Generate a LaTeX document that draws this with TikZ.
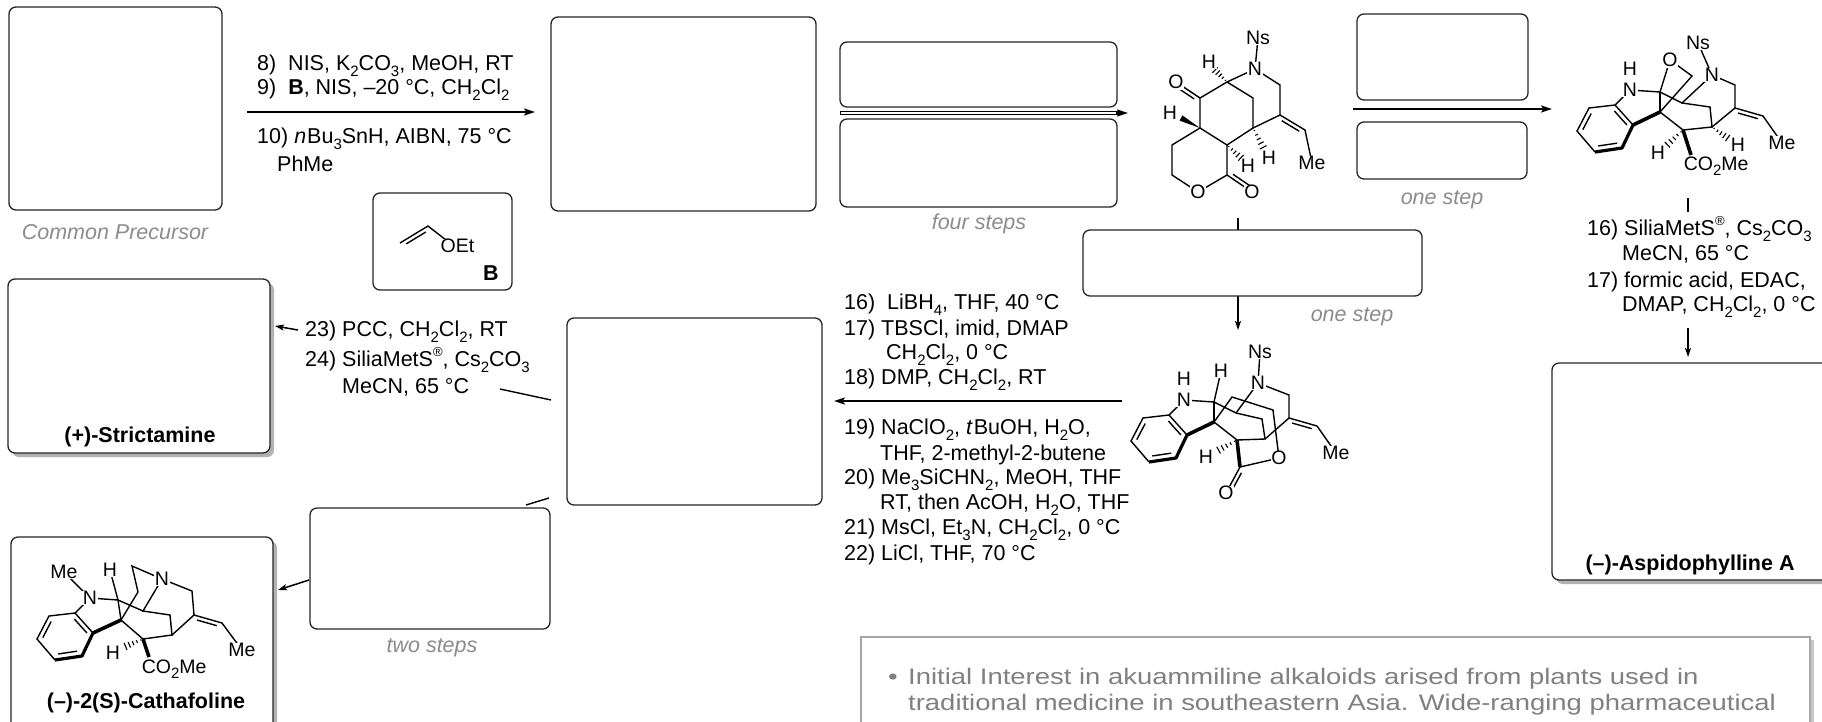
\documentclass[tikz,border=0pt]{standalone}
\usepackage{fontspec}
\setmainfont{Liberation Sans}
\newfontfamily\tbfont[FakeStretch=1.22]{Liberation Sans}
\usetikzlibrary{calc,arrows.meta}
\newcommand{\rf}{\fontsize{21.5}{25}\selectfont}
\newcommand{\tf}{\tbfont\fontsize{22.5}{26}\selectfont}
\newcommand{\af}{\fontsize{19.5}{20}\selectfont}
\newcommand{\sbs}[1]{\raisebox{-0.28em}{\fontsize{15}{15}\selectfont #1}}
\newcommand{\sps}[1]{\raisebox{0.5em}{\fontsize{13}{13}\selectfont #1}}
\newcommand{\hsh}[2]{\foreach \ha/\hb in {0.12/0.6pt,0.32/1.4pt,0.52/2.2pt,0.72/3pt,0.92/3.8pt}{\draw[line width=1.1pt] ($(#1)!\ha!(#2)!\hb!90:(#2)$) -- ($(#1)!\ha!(#2)!\hb!-90:(#2)$);}}
\newcommand{\wdg}[2]{\fill (#1) -- ($(#2)!3pt!90:(#1)$) -- ($(#2)!3pt!-90:(#1)$) -- cycle;}
\newcommand{\dbl}[3]{\draw[bond] ($(#1)!0.15!(#2)!#3!90:(#2)$) -- ($(#2)!0.15!(#1)!#3!-90:(#1)$);}
\begin{document}
\begin{tikzpicture}[x=1pt,y=-1pt,
  box/.style={draw=black!85, line width=1.3pt, rounded corners=7pt, fill=white, inner sep=0pt, outer sep=0pt},
  shadow/.style={fill=black!30, rounded corners=7pt},
  rg/.style={anchor=west, inner sep=0pt, font=\rf},
  gl/.style={inner sep=0pt, font=\rf\itshape, text=black!45},
  bl/.style={inner sep=0pt, font=\rf\bfseries},
  bond/.style={line width=1.4pt},
  thick bond/.style={line width=3.6pt},
  atom/.style={font=\af, fill=white, inner sep=0.6pt},
  arr/.style={-{Stealth[length=11pt,width=7pt,inset=2.5pt]}, line width=2pt},
  sarr/.style={-{Stealth[length=9pt,width=6pt,inset=2pt]}, line width=1.5pt}]
\useasboundingbox (0,0) rectangle (1822,721);
\fill[white] (0,0) rectangle (1822,721);

% ---------- connector coordinates ----------
\coordinate (a1s) at (247,112); \coordinate (a1e) at (535,112);
\coordinate (a2s) at (840,113); \coordinate (a2e) at (1128,113);
\coordinate (a3s) at (1353,109); \coordinate (a3e) at (1552,109);
\coordinate (a4s) at (1238,218); \coordinate (a4e) at (1238,330);
\coordinate (a5s) at (1122,401); \coordinate (a5e) at (834,401);
\coordinate (a6s) at (1688,198); \coordinate (a6t) at (1688,212);
\coordinate (a6u) at (1688,328); \coordinate (a6e) at (1688,357);
\coordinate (a7s) at (551,400); \coordinate (a7t) at (500,389);
\coordinate (a7u) at (298,330); \coordinate (a7e) at (275,326);
\coordinate (a8s) at (549,498); \coordinate (a8e) at (526,505);
\coordinate (a9s) at (309,580); \coordinate (a9e) at (278,590);

% arrows drawn below boxes
\draw[arr] (a1s) -- (a1e);
\draw[arr, line width=3.6pt] (a2s) -- (a2e);
\draw[white, line width=1.3pt] (841,113) -- (1116,113);
\draw[arr] (a3s) -- (a3e);
\draw[sarr] (a4s) -- (a4e);
\draw[arr] (a5s) -- (a5e);
\draw[bond] (a6s) -- (a6t);
\draw[sarr] (a6u) -- (a6e);
\draw[bond] (a7s) -- (a7t);
\draw[sarr] (a7u) -- (a7e);
\draw[bond] (a8s) -- (a8e);
\draw[sarr] (a9s) -- (a9e);

% ---------- boxes ----------
\node[box, minimum width=213pt, minimum height=203pt] (cp) at (115.5,108.5) {};
\node[box, minimum width=265pt, minimum height=194pt] (bx2) at (683.5,114) {};
\node[box, minimum width=277pt, minimum height=65pt] (fsu) at (978.5,74.5) {};
\node[box, minimum width=277pt, minimum height=88pt] (fsl) at (978.5,163) {};
\node[box, minimum width=171pt, minimum height=86pt] (osu) at (1442.5,57) {};
\node[box, minimum width=170pt, minimum height=57pt] (osl) at (1442,150.5) {};
\node[box, minimum width=339pt, minimum height=66pt] (osm) at (1252.5,263) {};
\node[box, minimum width=139pt, minimum height=97pt] (bb) at (442.5,241.5) {};
\fill[shadow] (12,283) rectangle (274,457);
\node[box, minimum width=262pt, minimum height=174pt] (str) at (139,366) {};
\node[box, minimum width=255pt, minimum height=187pt] (bx8) at (694.5,411.5) {};
\node[box, minimum width=240pt, minimum height=121pt] (ts) at (430,568.5) {};
\fill[shadow] (15,541) rectangle (277,734);
\node[box, minimum width=262pt, minimum height=193pt] (cat) at (142,633.5) {};
\fill[shadow] (1556,367) rectangle (1834,584);
\node[box, minimum width=278pt, minimum height=217pt] (asp) at (1691,471.5) {};
\fill[black!22] (864,640) rectangle (1814,760);
\node[draw=black!35, line width=1.5pt, fill=white, minimum width=949pt, minimum height=123pt, inner sep=0pt] (tb) at (1335.5,698.5) {};

% ---------- labels ----------
\node[gl] (lcp) at (115,232) {Common Precursor};
\node[gl] (lfs) at (979,224) {four steps};
\node[gl] (los1) at (1442,200) {one step};
\node[gl] (los2) at (1352,317) {one step};
\node[gl] (lts) at (432,648) {two steps};
\node[bl] (lstr) at (140,437) {(+)-Strictamine};
\node[bl] (lcat) at (146,703) {(–)-2(S)-Cathafoline};
\node[bl] (lasp) at (1690,565) {(–)-Aspidophylline A};

% ---------- reagents ----------
\node[rg] (r8) at (257,66) {8)\ \ NIS, K\sbs{2}CO\sbs{3}, MeOH, RT};
\node[rg] (r9) at (257,90) {9)\ \ \textbf{B}, NIS, –20 °C, CH\sbs{2}Cl\sbs{2}};
\node[rg] (r10) at (257,139) {10) \textit{n}\kern1ptBu\sbs{3}SnH, AIBN, 75 °C};
\node[rg] (r10b) at (277,164) {PhMe};

\node[rg] (m16) at (844,305) {16)\ \ LiBH\sbs{4}, THF, 40 °C};
\node[rg] (m17) at (844,330) {17) TBSCl, imid, DMAP};
\node[rg] (m17b) at (886,355) {CH\sbs{2}Cl\sbs{2}, 0 °C};
\node[rg] (m18) at (844,380) {18) DMP, CH\sbs{2}Cl\sbs{2}, RT};
\node[rg] (m19) at (844,430) {19) NaClO\sbs{2}, \textit{t}\kern1ptBuOH, H\sbs{2}O,};
\node[rg] (m19b) at (880,455) {THF, 2-methyl-2-butene};
\node[rg] (m20) at (844,480) {20) Me\sbs{3}SiCHN\sbs{2}, MeOH, THF};
\node[rg] (m20b) at (880,505) {RT, then AcOH, H\sbs{2}O, THF};
\node[rg] (m21) at (844,530) {21) MsCl, Et\sbs{3}N, CH\sbs{2}Cl\sbs{2}, 0 °C};
\node[rg] (m22) at (844,555) {22) LiCl, THF, 70 °C};

\node[rg] (l23) at (305,332) {23) PCC, CH\sbs{2}Cl\sbs{2}, RT};
\node[rg] (l24) at (305,360) {24) SiliaMetS\sps{®}, Cs\sbs{2}CO\sbs{3}};
\node[rg] (l24b) at (342,387) {MeCN, 65 °C};

\node[rg] (q16) at (1587,229) {16) SiliaMetS\sps{®}, Cs\sbs{2}CO\sbs{3}};
\node[rg] (q16b) at (1622,254) {MeCN, 65 °C};
\node[rg] (q17) at (1587,282) {17) formic acid, EDAC,};
\node[rg] (q17b) at (1622,307) {DMAP, CH\sbs{2}Cl\sbs{2}, 0 °C};

% ---------- text box ----------
\node[inner sep=0pt, font=\tf, text=black!50] (tbb) at (893,679) {•};
\node[anchor=west, inner sep=0pt, font=\tf, text=black!50] (tb1) at (908,679) {Initial Interest in akuammiline alkaloids arised from plants used in};
\node[anchor=west, inner sep=0pt, font=\tf, text=black!50] (tb2) at (908,705) {traditional medicine in southeastern Asia. Wide-ranging pharmaceutical};

% ---------- reagent B ----------
\coordinate (bv1) at (400,243); \coordinate (bv2) at (428,226); \coordinate (bvo) at (446,240);
\draw[bond] (bv1) -- (bv2) -- (bvo);
\dbl{bv1}{bv2}{-4pt}
\node[anchor=west, font=\af, inner sep=0.5pt, fill=white] (boet) at (440,246) {OEt};
\node[font=\rf\bfseries, inner sep=0pt] (blab) at (491,273) {B};

% ---------- molecule 1 ----------
\coordinate (m1c1) at (1227,82); \coordinate (m1c2) at (1200,98); \coordinate (m1o1) at (1176,82);
\coordinate (m1c4) at (1200,128); \coordinate (m1c5) at (1227,145); \coordinate (m1c6) at (1253,128);
\coordinate (m1cb) at (1253,98); \coordinate (m1ce) at (1280,115); \coordinate (m1cn) at (1280,85);
\coordinate (m1n) at (1255,69); \coordinate (m1ns) at (1258,38);
\coordinate (m1c7) at (1172,145); \coordinate (m1c8) at (1172,175); \coordinate (m1o2) at (1198,192);
\coordinate (m1c9) at (1227,175); \coordinate (m1o3) at (1252,192);
\coordinate (m1cv) at (1305,130); \coordinate (m1me) at (1312,163);
\coordinate (m1h1) at (1214,69); \coordinate (m1h4) at (1181,118);
\coordinate (m1h5) at (1242,159); \coordinate (m1h6) at (1264,149);
\draw[bond] (m1n) -- (m1c1) -- (m1c2) -- (m1c4) -- (m1c5) -- (m1c6) -- (m1cb) -- (m1c1);
\draw[bond] (m1n) -- (m1cn) -- (m1ce) -- (m1c6);
\draw[bond] (m1ce) -- (m1cv) -- (m1me);
\dbl{m1ce}{m1cv}{-4pt}
\draw[bond] (m1c2) -- (m1o1);
\dbl{m1c2}{m1o1}{4pt}
\draw[bond] (m1c4) -- (m1c7) -- (m1c8) -- (m1o2) -- (m1c9) -- (m1c5);
\draw[bond] (m1c9) -- (m1o3);
\dbl{m1c9}{m1o3}{4pt}
\draw[bond] (m1n) -- (m1ns);
\hsh{m1c1}{m1h1} \wdg{m1c4}{m1h4} \hsh{m1c5}{m1h5} \hsh{m1c6}{m1h6}
\node[atom] at (m1n) {N}; \node[atom] at (m1ns) {Ns};
\node[atom] at (m1o1) {O}; \node[atom] at (m1o2) {O}; \node[atom] at (m1o3) {O};
\node[atom] at (m1me) {Me};
\node[atom] at (1209,62) {H}; \node[atom] at (1170,113) {H};
\node[atom] at (1248,166) {H}; \node[atom] at (1269,158) {H};

% ---------- molecule 2 ----------
\coordinate (m2ni) at (1630,90); \coordinate (m2ca) at (1660,92); \coordinate (m2o) at (1670,60);
\coordinate (m2cq) at (1660,112); \coordinate (m2v) at (1692,76); \coordinate (m2c1) at (1682,103);
\coordinate (m2n) at (1712,75); \coordinate (m2ns) at (1698,43); \coordinate (m2cb) at (1710,107);
\coordinate (m2c15) at (1712,127); \coordinate (m2c16) at (1683,130); \coordinate (m2cn) at (1735,85);
\coordinate (m2ce) at (1735,108); \coordinate (m2cv) at (1763,116); \coordinate (m2me) at (1782,143);
\coordinate (m2co) at (1691,155); \coordinate (m2h16) at (1666,146); \coordinate (m2h15) at (1729,139);
\coordinate (m2p1) at (1615,105); \coordinate (m2p2) at (1633,125); \coordinate (m2p3) at (1622,148);
\coordinate (m2p4) at (1595,152); \coordinate (m2p5) at (1577,131); \coordinate (m2p6) at (1589,108);
\draw[bond] (m2ni) -- (m2p1); \draw[bond] (m2ni) -- (m2ca);
\draw[bond] (m2ca) -- (m2o) -- (m2v) -- (m2cq);
\draw[bond] (m2ca) -- (m2cq);
\draw[bond] (m2ca) -- (m2c1) -- (m2n);
\draw[bond] (m2c1) -- (m2cb) -- (m2c15) -- (m2c16) -- (m2cq);
\draw[bond] (m2n) -- (m2cn) -- (m2ce) -- (m2c15);
\draw[bond] (m2ce) -- (m2cv) -- (m2me);
\dbl{m2ce}{m2cv}{-4pt}
\draw[bond] (m2n) -- (m2ns);
\draw[thick bond] (m2p2) -- (m2cq);
\draw[bond] (m2p1) -- (m2p2); \draw[bond] (m2p4) -- (m2p5) -- (m2p6) -- (m2p1);
\draw[line width=3.2pt, line join=round] (m2p2) -- (m2p3) -- (m2p4);
\dbl{m2p5}{m2p6}{-4.5pt} \dbl{m2p3}{m2p4}{-5.5pt} \dbl{m2p1}{m2p2}{-4.5pt}
\draw[thick bond] (m2c16) -- (m2co);
\hsh{m2c16}{m2h16} \hsh{m2c15}{m2h15}
\node[atom] at (m2ni) {N}; \node[atom] at (1630,69) {H};
\node[atom] at (m2o) {O}; \node[atom] at (m2n) {N}; \node[atom] at (m2ns) {Ns};
\node[atom] at (m2me) {Me};
\node[atom, anchor=west] at (1683,166) {CO\sbs{2}Me};
\node[atom] at (1658,153) {H}; \node[atom] at (1738,145) {H};

% ---------- molecule 3 ----------
\coordinate (m3ni) at (1184,400); \coordinate (m3ca) at (1214,402); \coordinate (m3cq) at (1214,422);
\coordinate (m3w) at (1232,397); \coordinate (m3v) at (1273,410); \coordinate (m3c1) at (1236,413);
\coordinate (m3n) at (1258,383); \coordinate (m3ns) at (1260,352); \coordinate (m3cb) at (1262,419);
\coordinate (m3c15) at (1265,439); \coordinate (m3c16) at (1237,440); \coordinate (m3cn) at (1289,395);
\coordinate (m3ce) at (1289,418); \coordinate (m3cv) at (1317,426); \coordinate (m3me) at (1336,453);
\coordinate (m3cc) at (1240,467); \coordinate (m3oc) at (1226,493); \coordinate (m3or) at (1279,458);
\coordinate (m3h16) at (1217,451); \coordinate (m3ha) at (1221,371);
\coordinate (m3p1) at (1169,415); \coordinate (m3p2) at (1187,435); \coordinate (m3p3) at (1176,458);
\coordinate (m3p4) at (1149,462); \coordinate (m3p5) at (1131,441); \coordinate (m3p6) at (1143,418);
\draw[bond] (m3ni) -- (m3p1); \draw[bond] (m3ni) -- (m3ca);
\draw[bond] (m3ca) -- (m3ha);
\draw[bond] (m3ca) -- (m3cq);
\draw[bond] (m3ca) -- (m3c1) -- (m3n);
\draw[bond] (m3c1) -- (m3cb) -- (m3c15) -- (m3c16) -- (m3cq);
\draw[bond] (m3n) -- (m3cn) -- (m3ce) -- (m3c15);
\draw[bond] (m3ce) -- (m3cv) -- (m3me);
\dbl{m3ce}{m3cv}{-4pt}
\draw[bond] (m3n) -- (m3ns);
\draw[bond] (m3cq) -- (m3w) -- (m3v) -- (m3or) -- (m3cc) -- (m3oc);
\dbl{m3cc}{m3oc}{4pt}
\draw[thick bond] (m3c16) -- (m3cc);
\draw[thick bond] (m3p2) -- (m3cq);
\draw[bond] (m3p1) -- (m3p2); \draw[bond] (m3p4) -- (m3p5) -- (m3p6) -- (m3p1);
\draw[line width=3.2pt, line join=round] (m3p2) -- (m3p3) -- (m3p4);
\dbl{m3p5}{m3p6}{-4.5pt} \dbl{m3p3}{m3p4}{-5.5pt} \dbl{m3p1}{m3p2}{-4.5pt}
\hsh{m3c16}{m3h16}
\node[atom] at (m3ni) {N}; \node[atom] at (1184,379) {H};
\node[atom] at (m3ha) {H};
\node[atom] at (m3n) {N}; \node[atom] at (m3ns) {Ns};
\node[atom] at (m3me) {Me}; \node[atom] at (m3oc) {O}; \node[atom] at (m3or) {O};
\node[atom] at (1206,457) {H};

% ---------- molecule 4 (cathafoline) ----------
\coordinate (m4ni) at (90,598); \coordinate (m4me1) at (64,572); \coordinate (m4ca) at (118,600);
\coordinate (m4ha) at (110,570); \coordinate (m4cq) at (121,620);
\coordinate (m4k1) at (132,566); \coordinate (m4k2) at (138,592);
\coordinate (m4c1) at (143,611); \coordinate (m4n) at (162,579); \coordinate (m4cb) at (170,615);
\coordinate (m4c15) at (172,635); \coordinate (m4c16) at (143,639); \coordinate (m4cn) at (192,591);
\coordinate (m4ce) at (194,615); \coordinate (m4cv) at (222,623); \coordinate (m4me) at (242,650);
\coordinate (m4co) at (149,657); \coordinate (m4h16) at (124,647);
\coordinate (m4p1) at (75,613); \coordinate (m4p2) at (93,633); \coordinate (m4p3) at (82,656);
\coordinate (m4p4) at (55,660); \coordinate (m4p5) at (37,639); \coordinate (m4p6) at (49,616);
\draw[bond] (m4ni) -- (m4p1); \draw[bond] (m4ni) -- (m4ca); \draw[bond] (m4ni) -- (m4me1);
\draw[bond] (m4ca) -- (m4ha); \draw[bond] (m4ca) -- (m4cq); \draw[bond] (m4ca) -- (m4c1);
\draw[bond] (m4n) -- (m4k1) -- (m4k2) -- (m4cq);
\draw[bond] (m4n) -- (m4c1) -- (m4cb) -- (m4c15) -- (m4c16) -- (m4cq);
\draw[bond] (m4n) -- (m4cn) -- (m4ce) -- (m4c15);
\draw[bond] (m4ce) -- (m4cv) -- (m4me);
\dbl{m4ce}{m4cv}{-4pt}
\draw[thick bond] (m4p2) -- (m4cq);
\draw[bond] (m4p1) -- (m4p2); \draw[bond] (m4p4) -- (m4p5) -- (m4p6) -- (m4p1);
\draw[line width=3.2pt, line join=round] (m4p2) -- (m4p3) -- (m4p4);
\dbl{m4p5}{m4p6}{-4.5pt} \dbl{m4p3}{m4p4}{-5.5pt} \dbl{m4p1}{m4p2}{-4.5pt}
\draw[thick bond] (m4c16) -- (m4co);
\hsh{m4c16}{m4h16}
\node[atom] at (m4ni) {N}; \node[atom] at (m4me1) {Me}; \node[atom] at (m4ha) {H};
\node[atom] at (m4n) {N}; \node[atom] at (m4me) {Me};
\node[atom, anchor=west] at (141,669) {CO\sbs{2}Me};
\node[atom] at (113,653) {H};
\end{tikzpicture}
\end{document}
